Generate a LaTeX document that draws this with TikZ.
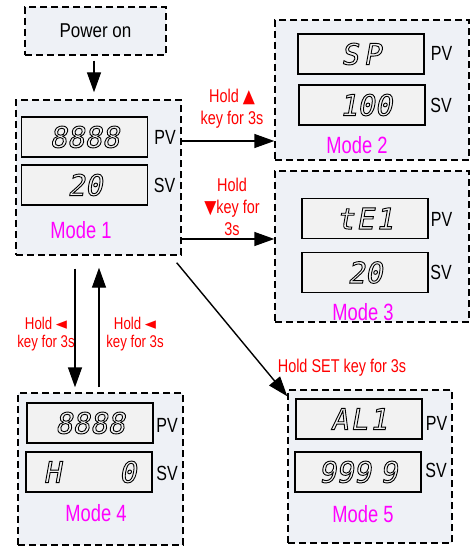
\documentclass[tikz,border=0pt]{standalone}
\usepackage{fontspec}
\setmainfont{Liberation Sans}[FakeStretch=0.85]
\newfontfamily\narrowf{Liberation Sans}[FakeStretch=0.78]
\newfontfamily\symf{DejaVu Sans}[FakeStretch=0.85]
\newfontfamily\segf{DejaVu Sans Mono}[FakeSlant=0.18]
\newcommand{\segtxt}[1]{\special{pdf:literal direct 1 Tr 0.9 w}#1\special{pdf:literal direct 0 Tr}}
\usetikzlibrary{arrows.meta}
\definecolor{boxfill}{RGB}{238,241,246}
\definecolor{dispfill}{RGB}{242,242,242}
\definecolor{modec}{RGB}{255,0,255}
\definecolor{lblred}{RGB}{255,0,0}
\begin{document}
\begin{tikzpicture}[x=1pt,y=-1pt,
 modebox/.style={draw, line width=1.4pt, dash pattern=on 7pt off 4pt, fill=boxfill, inner sep=0pt},
 disp/.style={draw, line width=1.1pt, fill=dispfill, minimum width=126pt, minimum height=40pt, inner sep=0pt, font=\segf\fontsize{29}{29}\selectfont},
 pvl/.style={font=\narrowf\fontsize{20.5}{20.5}\selectfont, inner sep=0pt},
 modet/.style={text=modec, font=\narrowf\fontsize{23.5}{23.5}\selectfont, inner sep=0pt},
 lbl/.style={text=lblred, align=center, font=\narrowf\fontsize{18.5}{22}\selectfont, inner sep=0pt},
 lbls/.style={text=lblred, align=center, font=\narrowf\fontsize{17}{18.5}\selectfont, inner sep=0pt},
 conn/.style={line width=1.4pt, -{Triangle[length=20pt,width=14pt]}}
]
\useasboundingbox (0,0) rectangle (471,548);

% boxes
\node[modebox, minimum width=141pt, minimum height=48pt, font=\fontsize{20}{20}\selectfont] (power) at (95.5,31) {Power on};
\node[modebox, minimum width=165pt, minimum height=155pt] (mode1) at (98.5,177.5) {};
\node[modebox, minimum width=194pt, minimum height=140pt] (mode2) at (372,90) {};
\node[modebox, minimum width=194pt, minimum height=151pt] (mode3) at (372,246.5) {};
\node[modebox, minimum width=165pt, minimum height=152pt] (mode4) at (100.5,469) {};
\node[modebox, minimum width=164pt, minimum height=153pt] (mode5) at (370,466.5) {};

% displays
\node[disp] (m1pv) at (84.5,137) {\segtxt{8888}};
\node[disp] (m1sv) at (84.5,185) {\hspace{1pt}\segtxt{20}};
\node[disp] (m2pv) at (361,54) {\segtxt{S\hspace{5pt}P}};
\node[disp] (m2sv) at (362,105) {\hspace{8pt}\segtxt{100}};
\node[disp] (m3pv) at (365,218.5) {\segtxt{t\hspace{2pt}E\hspace{2pt}1}};
\node[disp] (m3sv) at (365,272.5) {\segtxt{20}};
\node[disp] (m4pv) at (90,423) {\segtxt{8888}};
\node[disp] (m4sv) at (89,472) {\hspace{2pt}\segtxt{H\hspace{58pt}0}};
\node[disp] (m5pv) at (359,419) {\segtxt{A\hspace{2pt}L\hspace{2pt}1}};
\node[disp] (m5sv) at (358,472) {\segtxt{999\hspace{9pt}9}};

% PV / SV labels
\node[pvl] (p1) at (165,137) {PV};
\node[pvl] (s1) at (164.5,185) {SV};
\node[pvl] (p2) at (441.5,53) {PV};
\node[pvl] (s2) at (441,105) {SV};
\node[pvl] (p3) at (441.5,219) {PV};
\node[pvl] (s3) at (441,272) {SV};
\node[pvl] (p4) at (167,425) {PV};
\node[pvl] (s4) at (167,473) {SV};
\node[pvl] (p5) at (436.5,423) {PV};
\node[pvl] (s5) at (436,470) {SV};

% mode titles
\node[modet] (t1) at (81,230) {Mode 1};
\node[modet] (t2) at (357,145) {Mode 2};
\node[modet] (t3) at (363,312) {Mode 3};
\node[modet] (t4) at (96,513) {Mode 4};
\node[modet] (t5) at (363,514) {Mode 5};

% red labels
\node[lbl] (l12) at (232,109) {Hold {\symf ▲}\\key for 3s};
\node[lbl] (l13) at (232,207) {Hold\\{\symf ▼}key for\\3s};
\node[lbls] (l14) at (46,334) {Hold {\symf ◄}\\key for 3s};
\node[lbls] (l41) at (135,334) {Hold {\symf ◄}\\key for 3s};
\node[lbl] (l15) at (342,368) {Hold SET key for 3s};

% connectors
\draw[conn, shorten <=5pt, shorten >=7pt] ([xshift=-1.5pt]power.south) -- ([xshift=-1.5pt]power.south |- mode1.north);
\draw[conn] ([yshift=36.5pt]mode1.east) -- ([yshift=36.5pt]mode1.east -| mode2.west);
\draw[conn] ([yshift=-61.5pt]mode1.east) -- ([yshift=-61.5pt]mode1.east -| mode3.west);
\draw[conn, shorten <=13pt, shorten >=5pt] ([xshift=-23.5pt]mode1.south) -- ([xshift=-23.5pt]mode1.south |- mode4.north);
\draw[conn, shorten <=5pt, shorten >=12pt] ([xshift=0.5pt]mode1.south |- mode4.north) -- ([xshift=0.5pt]mode1.south);
\draw[conn] ([shift={(-5pt,-7pt)}]mode1.south east) -- ([yshift=-7pt]mode5.north west);
\end{tikzpicture}
\end{document}
